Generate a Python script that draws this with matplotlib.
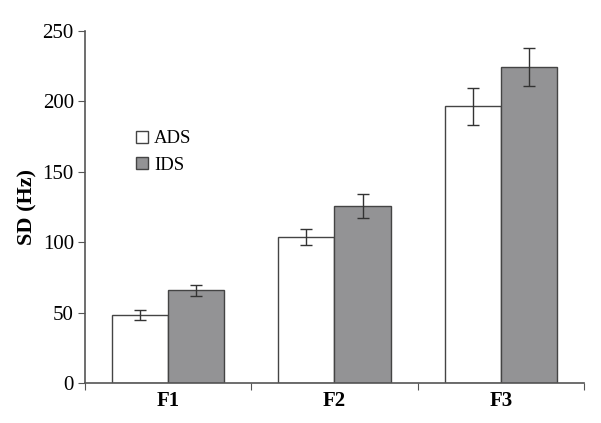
import matplotlib
import matplotlib.pyplot as plt
import numpy as np

matplotlib.use('agg', force=True)

categories = ["F1", "F2", "F3"]
ads_vals = [48.5, 103.7, 196.5]
ads_err = [3.5, 5.8, 13.0]
ids_vals = [65.8, 125.5, 224.4]
ids_err = [3.8, 8.5, 13.6]

plt.rcParams['font.family'] = ['Liberation Serif', 'DejaVu Serif']

fig = plt.figure(figsize=(6.01, 4.23), dpi=100)
ax = fig.add_axes([0.1414, 0.0946, 0.8303, 0.8321])

x = np.arange(len(categories)) + 0.5
w = 0.337
edge = "#444444"
ax.bar(x - w / 2, ads_vals, w, color="white", edgecolor=edge, linewidth=1.0,
       label="ADS", zorder=2)
ax.bar(x + w / 2, ids_vals, w, color="#939395", edgecolor=edge, linewidth=1.0,
       label="IDS", zorder=2)
ax.errorbar(x - w / 2, ads_vals, yerr=ads_err, fmt="none", ecolor="#333333",
            elinewidth=1.0, capsize=4, capthick=1.0, zorder=3)
ax.errorbar(x + w / 2, ids_vals, yerr=ids_err, fmt="none", ecolor="#333333",
            elinewidth=1.0, capsize=4, capthick=1.0, zorder=3)

ax.set_xlim(0, 3)
ax.set_ylim(0, 250)
ax.set_yticks([0, 50, 100, 150, 200, 250])
ax.set_xticks([0, 1, 2, 3])
ax.set_xticklabels([])
ax.set_xticks(x, minor=True)
ax.set_xticklabels(categories, minor=True, fontweight="bold", fontsize=15)
ax.tick_params(axis="x", which="minor", length=0, pad=6)
ax.tick_params(axis="x", which="major", length=5, color="#555555")
ax.tick_params(axis="y", length=5, color="#555555", labelsize=15, pad=3)

for s in ["top", "right"]:
    ax.spines[s].set_visible(False)
for s in ["left", "bottom"]:
    ax.spines[s].set_color("#555555")
    ax.spines[s].set_linewidth(1.2)

ax.set_ylabel("SD (Hz)", fontweight="bold", fontsize=16, labelpad=4)

ax.legend(loc="upper left", bbox_to_anchor=(0.084, 0.744), frameon=False,
          fontsize=13.5, handlelength=0.6, handleheight=0.6, handletextpad=0.35,
          labelspacing=0.5, borderpad=0)

plt.savefig("out.png", dpi=100)
